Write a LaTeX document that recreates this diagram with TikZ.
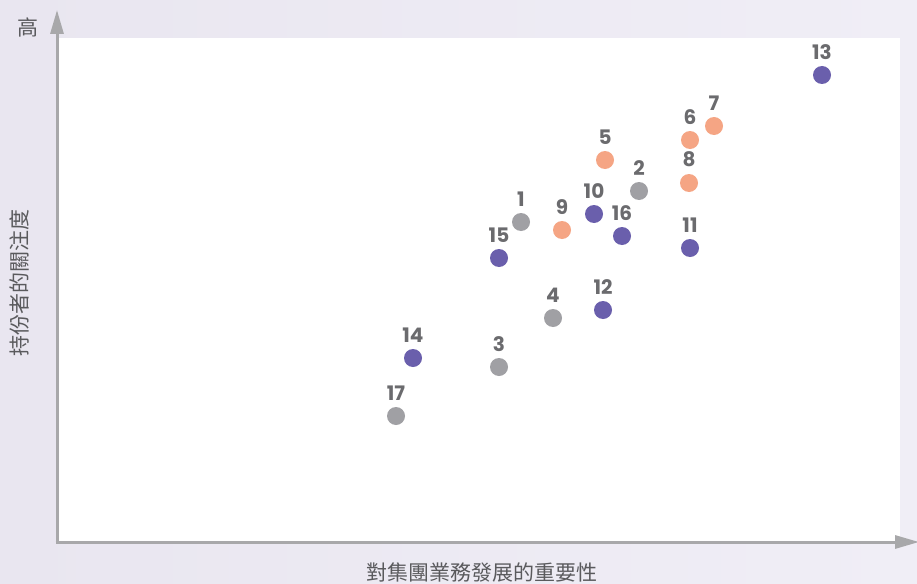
\documentclass[tikz,border=0pt]{standalone}
\usepackage{fontspec}
\setmainfont{Poppins}
\newfontfamily\cjk{Noto Sans CJK TC}
\usetikzlibrary{arrows.meta}

\definecolor{bgleft}{HTML}{E9E6F0}
\definecolor{bgright}{HTML}{F0EEF6}
\definecolor{axisgray}{HTML}{A8A8AA}
\definecolor{numgray}{HTML}{6B6B6E}
\definecolor{textgray}{HTML}{5A5A5D}
\definecolor{dotgray}{HTML}{A0A0A4}
\definecolor{dotpurple}{HTML}{6A5FAC}
\definecolor{dotorange}{HTML}{F5A584}

\begin{document}
\begin{tikzpicture}[
  x = 1pt, y = -1pt,
  axis/.style = {draw = axisgray, line width = 3pt,
                 -{Triangle[length = 24pt, width = 13pt]}},
  dot/.style = {circle, fill = #1, minimum size = 18pt, inner sep = 0pt},
  num/.style = {font = \fontsize{20}{20}\selectfont\bfseries, text = numgray},
  every label/.style = {num},
  label distance = 3pt,
  title/.style = {font = \fontsize{21}{21}\selectfont\cjk, text = textgray},
  ]
  \useasboundingbox (0,0) rectangle (917,583);
  \shade[left color = bgleft, right color = bgright] (0,0) rectangle (917,583);
  \fill[white] (58,38) rectangle (900,541);

  % axes
  \coordinate (origin) at (57,542);
  \coordinate (ytip) at (57,10);
  \coordinate (xtip) at (919,542);
  \draw[axis] (origin) -- (ytip);
  \draw[axis] ([xshift = -1.5pt]origin) -- (xtip);

  \node[title] (high) at (28,27) {高};
  \node[title, rotate = 90] (ylab) at (19,283) {持份者的關注度};
  \node[title] (xlab) at (482,572) {對集團業務發展的重要性};

  % issues
  \node[dot = dotpurple, label = above:13] (p13) at (822,75) {};
  \node[dot = dotorange, label = above:7]  (p7)  at (714,126) {};
  \node[dot = dotorange, label = above:6]  (p6)  at (690,140) {};
  \node[dot = dotorange, label = above:5]  (p5)  at (605,160) {};
  \node[dot = dotorange, label = above:8]  (p8)  at (689,183) {};
  \node[dot = dotgray,   label = above:2]  (p2)  at (639,191) {};
  \node[dot = dotpurple, label = above:10] (p10) at (594,214) {};
  \node[dot = dotgray,   label = above:1]  (p1)  at (521,222) {};
  \node[dot = dotorange, label = above:9]  (p9)  at (562,230) {};
  \node[dot = dotpurple, label = above:16] (p16) at (622,236) {};
  \node[dot = dotpurple, label = above:11] (p11) at (690,248) {};
  \node[dot = dotpurple, label = above:15] (p15) at (499,258) {};
  \node[dot = dotgray,   label = above:4]  (p4)  at (553,318) {};
  \node[dot = dotpurple, label = above:12] (p12) at (603,310) {};
  \node[dot = dotpurple, label = above:14] (p14) at (413,358) {};
  \node[dot = dotgray,   label = above:3]  (p3)  at (499,367) {};
  \node[dot = dotgray,   label = above:17] (p17) at (396,416) {};
\end{tikzpicture}
\end{document}
